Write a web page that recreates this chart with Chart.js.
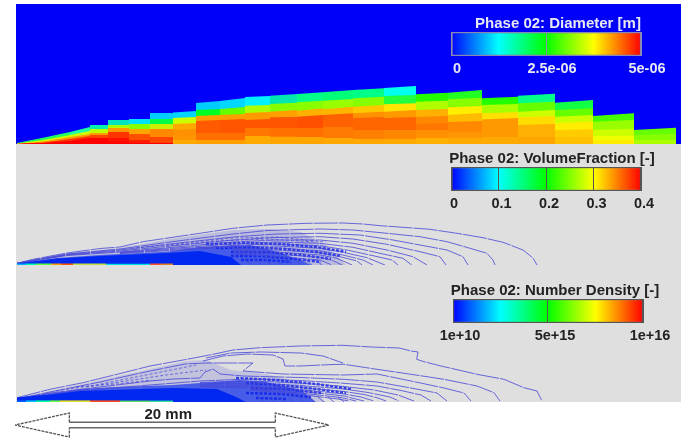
<!DOCTYPE html>
<html>
<head>
<meta charset="utf-8">
<title>Phase 02 fields</title>
<script src="https://cdn.jsdelivr.net/npm/chart.js@4"></script>
<style>
  html, body { margin: 0; padding: 0; background: #fff; }
  /* the source is a soft, low-res scan */
  canvas { position: absolute; filter: blur(0.55px); }
</style>
</head>
<body>
<canvas id="diameterField" style="left:16px;top:4px" width="665" height="140"></canvas>
<canvas id="fractionField" style="left:16px;top:144px" width="665" height="121"></canvas>
<canvas id="densityField" style="left:16px;top:265px" width="665" height="137"></canvas>
<canvas id="diameterBar" style="left:411px;top:12px" width="270" height="66"></canvas>
<canvas id="fractionBar" style="left:411px;top:147px" width="270" height="66"></canvas>
<canvas id="densityBar" style="left:413px;top:279px" width="270" height="66"></canvas>
<canvas id="scaleBar" style="left:10px;top:404px" width="325" height="34"></canvas>
<script>
// picture has no axes, so x = distance from the tip and y = height above the wall, in image units
const cellEdges = [1, 27, 54, 74, 92, 113, 134, 157, 180, 204, 229, 254, 281, 307, 337, 368, 400, 432, 466, 502, 539, 577, 618, 660];

const bandTop1 = [1,6.3, 6.3,12, 12,17, 19,19, 24,24, 25,25, 31,31, 31.5,33, 41,43, 43,46, 47,48, 48.3,50, 50,51.7, 51.7,54, 54,55.7, 56,58, 49.7,51.3, 51.3,54, 45.7,47.3, 48.3,50.3, 41.3,44, 28,30.7, 14,16.3];
const bandTop2 = [.5,4, 4,9, 9,13, 15,15, 19,19, 20,20, 25,25, 26,27, 34,35, 35,37, 38.3,39, 40,41.3, 41.7,43.3, 43.3,45, 45.7,47.3, 48,49, 42.3,43.3, 44.7,46.3, 39,40, 40.7,42.3, 34,35.7, 22.3,24, 9,10];
const bandTop3 = [.2,2.5, 2.5,7, 7,10, 11,11, 16,16, 15,15, 20,20, 20,21, 28,29, 29,30, 31,32, 32.3,34, 33.3,35.7, 34.7,37.3, 37.3,39, 39.7,40.7, 34,35, 36.7,38, 30.7,31.7, 32.3,34, 27.3,29, 14,15.3, 4,4];
const bandTop4 = [0,1.5, 1.5,5, 5,8, 9,9, 12,12, 10,10, 15,15, 14,15, 23,24, 24,25, 24,25, 26.7,27, 27.3,29, 29,30.7, 30.7,32.3, 32.3,34, 27,28, 29,31, 24.5,26, 26.7,28, 20.7,22.3, 8,8, 2,2];
const bandTop5 = [0,1, 1,3, 3,6, 6,6, 6,6, 4,4, 7,7, 8,8, 18,18, 18,18, 20,20, 20,20, 20,20, 20,20, 26,27, 26,27, 20,21, 22,23, 14,15, 19,20, 14,14.7, 4,4, 1,1];
const bandTop6 = [0,.7, .7,2, 2,5, 3,3, 3,3, 2,2, 3,3, 4,4, 11,11, 11,11, 16,16, 16,16, 16,16, 17,17, 14,14, 14,14, 14,14, 12.3,12.3, 7,7, 7,7, 7,7, 2,2, .5,.5];
const bandTop7 = [0,.5, .5,1, 1,1, 1.2,1.2, 1.2,1.2, 1.2,1.2, 1.2,1.2, 0,0, 4,4, 4,4, 8,8, 7.3,7.3, 7,7, 6,6, 5,5, 5,5, 6,6, 6,6, 3,3, 3,3, 3,3, 1,1, .2,.2];

const bandColor1 = ['#20ff60','#20ff60','#20ffa0','#00f0b0','#00e5c0','#00e0ff','#00ccff','#00d5ff','#00ccff','#00d8ff','#00f0ff','#00e8b0','#00ff88','#00ff78','#00ff88','#00ffee','#22ff00','#22ff22','#22ff00','#00ff88','#11ff44','#44ff00','#66ff00'];
const bandColor2 = ['#ccff00','#ccff00','#ccff00','#bbff00','#aaff00','#88ff00','#00ff44','#ccff00','#00ff22','#66ff00','#aaff00','#88ff00','#88ff00','#99ff00','#88ff00','#20ff40','#b0ff00','#88ff00','#aaff00','#66ff00','#66ff00','#99ff00','#88ff00'];
const bandColor3 = ['#ff9900','#ff9900','#ff9900','#ff9900','#ff9900','#ffa500','#ccee00','#ffa800','#ffa000','#ffa000','#ff9900','#ffa000','#ffb000','#ffb400','#ffc800','#ffe600','#ffb000','#ffee00','#ffe000','#ccff00','#ccff00','#ccff00','#aaff00'];
const bandColor4 = ['#ff3300','#ff3300','#ff3300','#ff4400','#ff3300','#ff5000','#ff8800','#ff9000','#ff5a00','#ff5500','#ff5500','#ff5500','#ff5000','#ff6000','#ff9000','#ff9900','#ff8800','#ffbb00','#ff9900','#ffdd00','#ffee00','#eeff00','#aaff00'];
const bandColor5 = ['#ff0000','#ff0000','#ff0000','#ff0000','#ff1100','#ff1a00','#ff4400','#ff9500','#ff5a00','#ff5500','#ff5500','#ff5500','#ff5000','#ff6000','#ff6600','#ff6600','#ff7700','#ff8800','#ff9900','#ffb000','#ffcc00','#ffee00','#aaff00'];
const bandColor6 = ['#ff0000','#ff0000','#ff0000','#ff0000','#ff0a00','#ff2a00','#ff5000','#ffa800','#ff7000','#ff7000','#ff7700','#ff7000','#ff7000','#ff7a00','#ff8000','#ff8800','#ff9000','#ff9500','#ffaa00','#ffa500','#ffc000','#ffee00','#aaff00'];
const bandColor7 = ['#ff0000','#ff0000','#ff0000','#ff0000','#ff0000','#ff0000','#ff0000','#ffa800','#ffa000','#ffa000','#ffaa00','#ffa500','#ffa500','#ffa800','#ffa800','#ffaa00','#ffb000','#ffaa00','#ffaa00','#ffa500','#ffc000','#ffee00','#aaff00'];

const fractionOuter = [[1,1.7],[17,5.7],[51,12],[84,16.5],[104,18],[127,23.3],[154,27.3],[184,31.7],[217,36.7],[251,40],[291,41.7],[327,42],[347,41],[364,39.3],[387,37.7],[414,35.7],[441,31.7],[467,27.3],[487,22.7],[507,15],[517,7],[521,0]];
const fractionArc2 = [[1,1.7],[51,11],[104,16],[154,23],[217,31],[251,34.5],[304,36],[337,35],[371,31.7],[404,28.3],[431,23.3],[454,16.7],[471,11.7],[477,5],[479,0]];
const fractionArc3 = [[1,1.7],[51,10.5],[104,15],[154,21],[217,28],[260,31],[304,31.7],[344,30],[377,25],[404,20],[431,15],[447,8.3],[452,0]];
const fractionArc4 = [[1,1.7],[51,10],[104,14],[154,19],[217,25],[260,27.5],[304,28.3],[337,26],[371,20.7],[404,13.3],[424,8.3],[430,0]];
const fractionArc5 = [[1,1.7],[51,9.5],[104,13],[154,17.5],[217,23],[260,25],[304,25],[337,21.7],[371,15],[397,8.3],[411,0]];
const fractionArc6 = [[104,12.5],[154,16.5],[217,21],[260,23],[304,21.7],[337,17.7],[364,11.7],[387,6.7],[395.7,0]];
const fractionArc7 = [[104,12],[154,15.5],[217,19.5],[260,21],[304,19.3],[331,15],[357,9.3],[376,5],[382,0]];
const fractionArc8 = [[104,11.5],[154,14.5],[217,18],[260,19],[304,16.7],[327,12.7],[351,7.3],[369,0]];
const fractionArc9 = [[217,16.5],[260,17],[304,14.3],[327,10],[347,5],[357,0]];
const fractionArc10 = [[217,15],[260,15],[304,12.3],[324,8.3],[341,4],[346,0]];
const fractionArc11 = [[217,14],[260,13],[304,10],[321,6.7],[336,0]];
const fractionArc12 = [[217,12.5],[260,11],[304,7.7],[317,4.3],[326,0]];
const fractionArc13 = [[217,11],[260,8.5],[304,5],[316,0]];
const fractionHooks = [[298,6],[306,0],[null,null],[288,6],[296,0],[null,null],[278,6],[286,0],[null,null],[268,6],[276,0],[null,null],[258,6],[266,0],[null,null],[248,6],[256,0],[null,null],[238,6],[246,0],[null,null],[228,6],[236,0]];
const fractionMottle0 = [[190,21],[230,22],[265,21],[300,18],[330,13]];
const fractionMottle1 = [[200,17],[240,17.5],[270,16],[300,13],[325,9]];
const fractionMottle2 = [[215,13],[250,13],[285,10],[315,6]];
const fractionMottle3 = [[215,9],[245,9],[280,6],[305,3]];
const fractionMottle4 = [[225,5],[250,5],[275,3]];
const fractionHatch1 = [[120,17],[170,22],[217,27],[260,28],[310,23]];
const fractionHatch2 = [[150,19],[200,24],[250,26],[300,23]];
const fractionHaze = [[1,1.7],[51,12],[104,17],[154,26],[217,35],[251,36],[285,33],[310,20],[330,0]];
const fractionDense = [[1,1.5],[41,7],[84,10],[151,13.3],[184,18],[234,20],[255,15],[285,5],[295,0]];
const fractionCore = [[1,1.5],[41,6.5],[84,9],[151,12],[184,14],[215,8],[225,0]];
const fractionStripEdges = [1, 10, 20, 35, 45, 57, 90, 134, 145, 157];
const fractionStripTop = [1.5,1.5, 1.5,1.5, 1.5,1.5, 1.5,1.5, 1.5,1.5, 1.5,1.5, 1.2,1.2, 1.5,1.5, 1.5,1.5];
const fractionStripColor = ['#00b0ff','#00ffaa','#60ff40','#ffa000','#ff5500','#c0e040','#00e0e0','#ff5030','#e08020'];

const densityOuter = [[1,4.3],[34,12.7],[67,19.3],[101,27.7],[134,36],[171,42.7],[197,47.7],[217,52],[244,54.3],[284,56],[327,56.7],[355,55],[383,54],[395,51],[402,50],[400.7,42.7],[408,40.3],[425,36],[461,27.7],[488,22.7],[508,14.3],[521,11],[526,1]];
const densityLine1 = [[190,44],[215,49],[245,50],[285,49],[307,46],[327,39]];
const densityLine2 = [[187,41],[207,46],[231,48],[257,47],[267,43],[269,36],[284,36],[317,37.5],[328,37.7],[361,32.7],[395,27.7],[428,22.7],[461,16],[478,9.3],[484,1]];
const densityLine3 = [[1,3],[34,10],[84,20],[134,31],[169,38],[189,39],[237,39],[227,31],[267,28],[327,27],[361,28],[395,21],[428,14],[448,9],[455,1]];
const densityLine4 = [[1,3],[34,9],[84,15],[134,21],[157,23],[184,24],[189,30],[197,33],[204,28],[227,26],[284,24.5],[328,22.7],[361,20],[395,14],[421,9],[431,1]];
const densityLine5 = [[1,3],[34,8.5],[84,13],[134,17],[184,21],[234,23],[284,21.5],[328,18.7],[361,16],[385,11.5],[405,7],[415,1]];
const densityLine6 = [[184,19.5],[234,21],[284,19],[328,15.5],[358,12],[382,7],[398,1]];
const densityLine7 = [[184,18],[234,19],[284,16.5],[328,13],[352,9.5],[374,5],[383,1]];
const densityLine8 = [[184,17],[234,17],[284,14.5],[328,10.5],[348,7.5],[362,4],[370,1]];
const densityLine9 = [[184,16],[234,15.5],[284,12.5],[328,8],[345,5],[358,1]];
const densityLine10 = [[184,15],[234,14],[284,11],[328,6],[348,1]];
const densityLine11 = [[234,13],[284,9],[325,4.5],[340,1]];
const densityLine12 = [[234,12],[284,7.5],[322,3],[333,1]];
const densityHooks = [[322,5],[328,0],[null,null],[312,5],[318,0],[null,null],[302,5],[308,0],[null,null],[292,5],[298,0],[null,null],[282,5],[288,0],[null,null],[272,5],[278,0],[null,null],[262,5],[268,0],[null,null],[252,5],[258,0],[null,null],[242,5],[248,0]];
const densityMottle0 = [[220,24],[260,22],[300,18],[335,13]];
const densityMottle1 = [[230,19],[265,17],[300,13],[330,9]];
const densityMottle2 = [[235,14],[270,13],[305,9]];
const densityMottle3 = [[230,9],[265,8],[295,5]];
const densityMottle4 = [[240,4],[270,3]];
const densityHatch1 = [[40,11],[80,17],[120,25],[150,31],[180,37]];
const densityHatch2 = [[70,15],[110,21],[150,27],[190,32]];
const densityHatch3 = [[60,15],[100,18],[135,22]];
const densityHaze = [[1,4.3],[67,18],[134,33],[171,41],[190,42],[215,32],[250,28],[285,20],[310,0]];
const densityDense = [[1,4.5],[34,8],[64,13],[100,15],[157,17],[224,22],[250,20],[285,12],[300,0]];
const densityCore = [[1,4.5],[34,7.5],[64,11],[157,14],[201,13],[220,5],[230,0]];
const densityStripEdges = [1, 10, 20, 34, 44, 74, 104, 134, 157];
const densityStripTop = [1.6,1.6, 1.6,1.6, 1.6,1.6, 1.6,1.6, 1.6,1.6, 1.6,1.6, 1.4,1.4, 1.4,1.4];
const densityStripColor = ['#0060ff','#00c0ff','#00ffa0','#70ff40','#e8e020','#ff5020','#60e060','#30e0a0'];

const diameterTicks = [0, 2.5e-6, 5e-6];
const diameterTickLabels = ['0', '2.5e-06', '5e-06'];
const fractionTicks = [0, 0.1, 0.2, 0.3, 0.4];
const fractionTickLabels = ['0', '0.1', '0.2', '0.3', '0.4'];
const densityTicks = [1e10, 5e15, 1e16];
const densityTickLabels = ['1e+10', '5e+15', '1e+16'];

const arrowLeftHead = [[3.46,.23],[3.46,1],[0,0],[3.46,-1],[3.46,-.23]];
const arrowRightHead = [[16.58,.23],[16.58,1],[20,0],[16.58,-1],[16.58,-.23]];
const arrowShaftTop = [[3.46,.23],[16.58,.23]];
const arrowShaftBottom = [[3.46,-.23],[16.58,-.23]];

const captionFont = 'bold 15px "Liberation Sans", Arial, sans-serif';

function toPoints(pairs) {
    return pairs.map(p => ({ x: p[0], y: p[1] }));
}

// one colour per mesh column, stepped top edge, filled down to the wall
function bandDataset(edges, tops, colors) {
    const points = [];
    colors.forEach((c, i) => {
        points.push({ x: edges[i], y: tops[2 * i] });
        points.push({ x: edges[i + 1], y: tops[2 * i + 1] });
    });
    return {
        data: points,
        showLine: true,
        pointRadius: 0,
        borderWidth: 0,
        fill: 'start',
        backgroundColor: colors[0],
        segment: { backgroundColor: ctx => colors[ctx.p0DataIndex >> 1] }
    };
}

function lineDataset(pairs, width, color, dash) {
    return {
        data: toPoints(pairs),
        showLine: true,
        pointRadius: 0,
        borderWidth: width,
        borderColor: color,
        borderDash: dash,
        spanGaps: false
    };
}

function contourDataset(pairs) {
    return lineDataset(pairs, 1, 'rgba(70,70,215,0.8)', [24, 1]);
}

function hatchDataset(pairs) {
    return lineDataset(pairs, 1, 'rgba(70,70,215,0.7)', [3, 2]);
}

function mottleDataset(pairs) {
    return lineDataset(pairs, 2.5, 'rgba(15,35,235,0.85)', [3, 1.5]);
}

function fillDataset(pairs, color) {
    return {
        data: toPoints(pairs),
        showLine: true,
        pointRadius: 0,
        borderWidth: 0,
        fill: 'start',
        backgroundColor: color
    };
}

function fieldChart(id, background, yMax, datasets) {
    return new Chart(document.getElementById(id), {
        type: 'scatter',
        data: { datasets: datasets },
        options: {
            responsive: false,
            animation: false,
            events: [],
            layout: { padding: 0 },
            plugins: { legend: { display: false }, tooltip: { enabled: false } },
            scales: {
                x: { type: 'linear', min: 0, max: 665, display: false },
                y: { type: 'linear', min: 0, max: yMax, display: false }
            }
        },
        plugins: [{
            id: 'panelBackground',
            beforeDraw(chart) {
                const area = chart.chartArea;
                chart.ctx.fillStyle = background;
                chart.ctx.fillRect(area.left, area.top, area.width, area.height);
            }
        }]
    });
}

function colorBar(id, caption, captionColor, captionCenter, ticks, tickLabels, labelShift, textColor, lineColor) {
    const low = ticks[0];
    const high = ticks[ticks.length - 1];
    return new Chart(document.getElementById(id), {
        type: 'bar',
        data: {
            labels: [caption],
            datasets: [{
                data: [[low, high]],
                barPercentage: 1,
                categoryPercentage: 1,
                borderWidth: 1.5,
                borderSkipped: false,
                borderColor: lineColor,
                backgroundColor(ctx) {
                    const area = ctx.chart.chartArea;
                    if (!area) return '#0000ff';
                    const g = ctx.chart.ctx.createLinearGradient(area.left, 0, area.right, 0);
                    g.addColorStop(0, '#0000ff');
                    g.addColorStop(0.25, '#00ffff');
                    g.addColorStop(0.5, '#00ff00');
                    g.addColorStop(0.75, '#ffff00');
                    g.addColorStop(1, '#ff0000');
                    return g;
                }
            }]
        },
        options: {
            indexAxis: 'y',
            responsive: false,
            animation: false,
            events: [],
            layout: { padding: { left: 40, right: 40, top: 20, bottom: 0 } },
            plugins: { legend: { display: false }, tooltip: { enabled: false } },
            scales: {
                y: { display: false },
                x: {
                    type: 'linear',
                    min: low,
                    max: high,
                    border: { display: false },
                    grid: { color: lineColor, drawTicks: false, z: 1 },
                    afterBuildTicks(axis) { axis.ticks = ticks.map(v => ({ value: v })); },
                    afterFit(axis) { axis.height = 22; },
                    ticks: {
                        autoSkip: false,
                        maxRotation: 0,
                        padding: 4,
                        labelOffset: labelShift,
                        color: textColor,
                        font: { family: '"Liberation Sans", Arial, sans-serif', size: 14.5, weight: 'bold' },
                        callback(value, index) { return tickLabels[index]; }
                    }
                }
            }
        },
        plugins: [{
            id: 'barCaption',
            afterDraw(chart) {
                const c = chart.ctx;
                c.save();
                c.font = captionFont;
                c.fillStyle = captionColor;
                c.textAlign = 'center';
                c.textBaseline = 'middle';
                c.fillText(caption, chart.chartArea.left + captionCenter, chart.chartArea.top - 8.5);
                c.restore();
            }
        }]
    });
}

fieldChart('diameterField', '#0000fa', 140, [
    bandDataset(cellEdges, bandTop7, bandColor7),
    bandDataset(cellEdges, bandTop6, bandColor6),
    bandDataset(cellEdges, bandTop5, bandColor5),
    bandDataset(cellEdges, bandTop4, bandColor4),
    bandDataset(cellEdges, bandTop3, bandColor3),
    bandDataset(cellEdges, bandTop2, bandColor2),
    bandDataset(cellEdges, bandTop1, bandColor1)
]);

fieldChart('fractionField', '#dfdfdf', 121, [
    bandDataset(fractionStripEdges, fractionStripTop, fractionStripColor),
    fillDataset(fractionCore, 'rgb(0,40,240)'),
    contourDataset(fractionHooks),
    contourDataset(fractionOuter),
    contourDataset(fractionArc2),
    contourDataset(fractionArc3),
    contourDataset(fractionArc4),
    contourDataset(fractionArc5),
    contourDataset(fractionArc6),
    contourDataset(fractionArc7),
    contourDataset(fractionArc8),
    contourDataset(fractionArc9),
    contourDataset(fractionArc10),
    contourDataset(fractionArc11),
    contourDataset(fractionArc12),
    contourDataset(fractionArc13),
    hatchDataset(fractionHatch1),
    hatchDataset(fractionHatch2),
    mottleDataset(fractionMottle0),
    mottleDataset(fractionMottle1),
    mottleDataset(fractionMottle2),
    mottleDataset(fractionMottle3),
    mottleDataset(fractionMottle4),
    fillDataset(fractionDense, 'rgba(20,50,235,0.7)'),
    fillDataset(fractionHaze, 'rgba(110,110,220,0.3)')
]);

fieldChart('densityField', '#dfdfdf', 137, [
    bandDataset(densityStripEdges, densityStripTop, densityStripColor),
    fillDataset(densityCore, 'rgb(0,40,240)'),
    contourDataset(densityHooks),
    contourDataset(densityOuter),
    contourDataset(densityLine1),
    contourDataset(densityLine2),
    contourDataset(densityLine3),
    contourDataset(densityLine4),
    contourDataset(densityLine5),
    contourDataset(densityLine6),
    contourDataset(densityLine7),
    contourDataset(densityLine8),
    contourDataset(densityLine9),
    contourDataset(densityLine10),
    contourDataset(densityLine11),
    contourDataset(densityLine12),
    hatchDataset(densityHatch1),
    hatchDataset(densityHatch2),
    hatchDataset(densityHatch3),
    mottleDataset(densityMottle0),
    mottleDataset(densityMottle1),
    mottleDataset(densityMottle2),
    mottleDataset(densityMottle3),
    mottleDataset(densityMottle4),
    fillDataset(densityDense, 'rgba(20,50,235,0.7)'),
    fillDataset(densityHaze, 'rgba(110,110,220,0.25)')
]);

colorBar('diameterBar', 'Phase 02: Diameter [m]', '#e8e8f4', 107, diameterTicks, diameterTickLabels, 6, '#e8e8f4', '#8a8ab0');
colorBar('fractionBar', 'Phase 02: VolumeFraction [-]', '#222', 101, fractionTicks, fractionTickLabels, 3, '#222', '#555');
colorBar('densityBar', 'Phase 02: Number Density [-]', '#222', 102, densityTicks, densityTickLabels, 7, '#222', '#555');

// 20 mm arrow drawn on its own mm axis
new Chart(document.getElementById('scaleBar'), {
    type: 'scatter',
    data: {
        datasets: [
            lineDataset(arrowLeftHead, 1.3, '#555', [3, 1]),
            lineDataset(arrowRightHead, 1.3, '#555', [3, 1]),
            lineDataset(arrowShaftTop, 1.5, '#666', []),
            lineDataset(arrowShaftBottom, 1.5, '#666', [])
        ]
    },
    options: {
        responsive: false,
        animation: false,
        events: [],
        layout: { padding: { left: 5, right: 6, top: 0, bottom: 0 } },
        plugins: { legend: { display: false }, tooltip: { enabled: false } },
        scales: {
            x: { type: 'linear', min: 0, max: 20, display: false },
            y: { type: 'linear', min: -1.08, max: 1.75, display: false }
        }
    },
    plugins: [{
        id: 'scaleCaption',
        afterDraw(chart) {
            const c = chart.ctx;
            c.save();
            c.font = captionFont;
            c.fillStyle = '#222';
            c.textAlign = 'center';
            c.textBaseline = 'middle';
            c.fillText('20 mm', chart.scales.x.getPixelForValue(9.76), chart.scales.y.getPixelForValue(0.85));
            c.restore();
        }
    }]
});
</script>
</body>
</html>
